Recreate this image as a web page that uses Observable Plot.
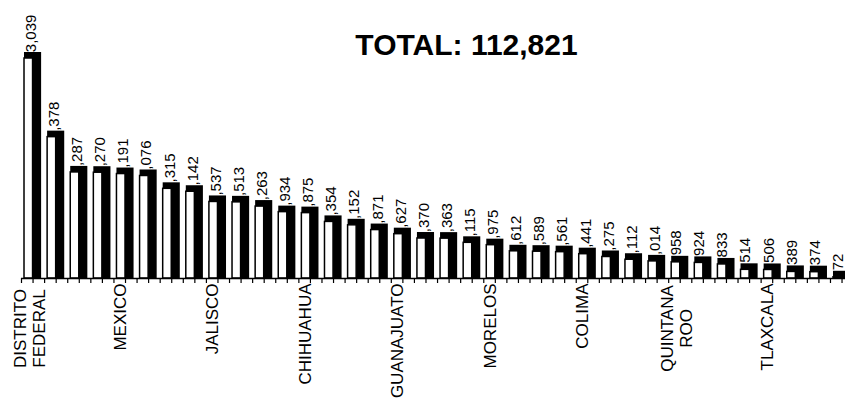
<!DOCTYPE html>
<html><head><meta charset="utf-8">
<script src="https://cdn.jsdelivr.net/npm/d3@7"></script>
<script src="https://cdn.jsdelivr.net/npm/@observablehq/plot@0.6"></script>
<style>body{margin:0;background:#fff}</style>
</head><body><div id="chart"></div>
<script>
const values = [13039, 8378, 6287, 6270, 6191, 6076, 5315, 5142, 4537, 4513, 4263, 3934,
  3875, 3354, 3152, 2871, 2627, 2370, 2363, 2115, 1975, 1612, 1589, 1561,
  1441, 1275, 1112, 1014, 958, 924, 833, 514, 506, 389, 374, 72];
const stateLabels = ["DISTRITO\nFEDERAL", "", "", "", "MEXICO", "", "", "", "JALISCO", "", "", "",
  "CHIHUAHUA", "", "", "", "GUANAJUATO", "", "", "", "MORELOS", "", "", "",
  "COLIMA", "", "", "", "QUINTANA\nROO", "", "", "", "TLAXCALA", "", "", ""];
const title = "TOTAL: 112,821";

const data = values.map((v, k) => ({i: k + 1, v, label: stateLabels[k]}));
const half = 0.37;
const fmt = d3.format(",");
const font = "'Liberation Sans', Arial, sans-serif";
const tickVals = d3.range(0.5, 36.01, 0.5);

const plot = Plot.plot({
  width: 845, height: 405,
  marginLeft: 21, marginRight: 0, marginTop: 58, marginBottom: 127,
  style: {fontFamily: font, background: "#fff", color: "#000"},
  x: {domain: [0.5, 36.15], label: null},
  y: {domain: [0, 13039], axis: null},
  marks: [
    Plot.text(data.filter(d => d.v >= 1000), {x: "i", y: "v", text: d => fmt(d.v), rotate: -90, textAnchor: "start", dy: 2, dx: -2, fontSize: 15, fill: "#000"}),
    Plot.text(data.filter(d => d.v < 1000), {x: "i", y: "v", text: d => fmt(d.v), rotate: -90, textAnchor: "start", dy: -7, dx: -4, fontSize: 15, fill: "#000"}),
    Plot.rect(data, {x1: d => d.i - half, x2: d => d.i + half, y1: 0, y2: "v", fill: "#000", insetTop: -6}),
    Plot.rect(data, {x1: d => d.i - half, x2: d => d.i, y1: 0, y2: "v", fill: "#fff", stroke: "#000", strokeWidth: 1.5}),
    Plot.ruleY([0], {stroke: "#000", strokeWidth: 1.5}),
    Plot.axisX(tickVals, {tickSize: 5, text: null, label: null, anchor: "bottom", stroke: "#000", strokeWidth: 1.2}),
    Plot.text(data.filter(d => d.label && !d.label.includes("\n")), {x: "i", y: 0, text: "label", rotate: -90, textAnchor: "end", dy: 5, dx: -5, fontSize: 17, fill: "#000"}),
    Plot.text(data.filter(d => d.label.includes("\n")), {x: "i", y: 0, text: "label", rotate: -90, textAnchor: "middle", dy: 50, dx: -4, fontSize: 17, lineHeight: 1.15, fill: "#000"}),
    Plot.text([title], {frameAnchor: "top", text: d => d, dx: 33, dy: -13, lineAnchor: "middle", fontSize: 30, fontWeight: "bold", fill: "#000"})
  ]
});
document.getElementById("chart").appendChild(plot);
</script>
</body></html>
